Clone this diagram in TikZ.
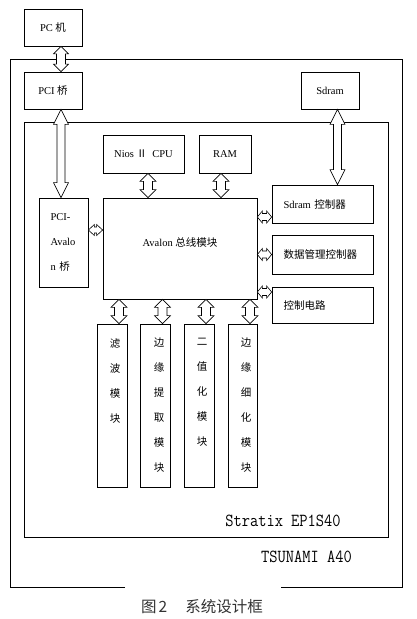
\documentclass[tikz,border=0pt]{standalone}
\usepackage{fontspec}
\setmainfont{Liberation Serif}
\newfontfamily\cjkfont{Noto Sans CJK SC}
\newcommand{\zhtxt}[1]{{\cjkfont #1}}
\usetikzlibrary{calc}
\begin{document}
\begin{tikzpicture}[x=1pt,y=-1pt,
  box/.style={draw,line width=0.7pt,inner sep=0pt,font=\fontsize{10.5pt}{12pt}\selectfont},
  lbox/.style={box,align=left,inner xsep=11.5pt,text width=#1},
  vtxt/.style={font=\fontsize{10.5pt}{25pt}\selectfont\cjkfont,align=center,anchor=north,inner sep=0pt},
  mono/.style={font=\fontsize{16pt}{18pt}\selectfont\ttfamily,inner sep=0pt},
  vdbl/.style n args={3}{draw,fill=white,line width=0.6pt,line join=miter,
    to path={let \p1=(\tikztostart),\p2=(\tikztotarget) in
      (\x1,\y1) -- (\x1+#1,\y1-#3) -- (\x1+#2,\y1-#3) -- (\x1+#2,\y2+#3) -- (\x1+#1,\y2+#3)
      -- (\x1,\y2) -- (\x1-#1,\y2+#3) -- (\x1-#2,\y2+#3) -- (\x1-#2,\y1-#3) -- (\x1-#1,\y1-#3) -- cycle}},
  hdbl/.style n args={3}{draw,fill=white,line width=0.6pt,line join=miter,
    to path={let \p1=(\tikztostart),\p2=(\tikztotarget) in
      (\x1,\y1) -- (\x1+#3,\y1+#1) -- (\x1+#3,\y1+#2) -- (\x2-#3,\y1+#2) -- (\x2-#3,\y1+#1)
      -- (\x2,\y1) -- (\x2-#3,\y1-#1) -- (\x2-#3,\y1-#2) -- (\x1+#3,\y1-#2) -- (\x1+#3,\y1-#1) -- cycle}}
]
\useasboundingbox (0,0) rectangle (416,619);
\fill[white] (0,0) rectangle (416,619);

% outer board frame (TSUNAMI A40), bottom edge broken by the caption
\draw[line width=0.7pt] (125,587) -- (10,587) -- (10,59) -- (402,59) -- (402,587) -- (281,587);
% FPGA frame (Stratix EP1S40)
\draw[line width=0.7pt] (24,122) rectangle (388,537);

% boxes
\node[box,minimum width=58pt,minimum height=37pt] (pc) at (53,27.5) {PC \zhtxt{机}};
\node[box,minimum width=58pt,minimum height=37pt] (pci) at (53,90.5) {PCI \zhtxt{桥}};
\node[box,minimum width=58pt,minimum height=37pt] (sdram) at (330,90.5) {Sdram};
\node[box,minimum width=81pt,minimum height=38pt] (nios) at (143.5,154) {Nios \zhtxt{Ⅱ}\ \ CPU};
\node[box,minimum width=52pt,minimum height=38pt] (ram) at (225,154) {RAM};
\node[lbox=26pt,font=\fontsize{10.5pt}{25pt}\selectfont,minimum width=49pt,minimum height=89pt] (pcia) at (63.5,242.5) {PCI-\\Avalo\\n \zhtxt{桥}};
\node[box,minimum width=154pt,minimum height=101pt] (avalon) at (180,248.5) {};
\node[font=\fontsize{10.5pt}{12pt}\selectfont,inner sep=0pt] (avtxt) at (180,243) {Avalon \zhtxt{总线模块}};
\node[lbox=78pt,minimum width=101pt,minimum height=38pt] (sdc) at (322.5,204) {Sdram \zhtxt{控制器}};
\node[lbox=78pt,minimum width=101pt,minimum height=39pt] (dmc) at (322.5,254.5) {\zhtxt{数据管理控制器}};
\node[lbox=78pt,minimum width=101pt,minimum height=36pt] (ctl) at (322.5,305) {\zhtxt{控制电路}};

\node[box,minimum width=30pt,minimum height=163pt] (m1) at (112,405.5) {};
\node[box,minimum width=30pt,minimum height=163pt] (m2) at (155,405.5) {};
\node[box,minimum width=30pt,minimum height=163pt] (m3) at (199,405.5) {};
\node[box,minimum width=29pt,minimum height=163pt] (m4) at (242.5,405.5) {};
\node[vtxt] (m1t) at (115,338) {滤\\波\\模\\块};
\node[vtxt] (m2t) at (159,338) {边\\缘\\提\\取\\模\\块};
\node[vtxt] (m3t) at (202,338) {二\\值\\化\\模\\块};
\node[vtxt] (m4t) at (246,338) {边\\缘\\细\\化\\模\\块};

% labels of the frames
\node[mono] (strtx) at (283,521) {\scalebox{1}[1.15]{Stratix EP1S40}};
\node[mono] (tsun) at (306.5,557) {\scalebox{1}[1.15]{TSUNAMI A40}};

% caption
\node[font=\fontsize{15.5pt}{18pt}\selectfont\cjkfont,inner sep=0pt,text=black!80] (cap) at (202,607) {图\hspace{2pt}2\hspace{18pt}系统设计框};

% block double arrows
\draw[vdbl={7.5pt}{4.5pt}{7.5pt}] (pc.south -| 61,0) to (pci.north -| 61,0);
\draw[vdbl={7.5pt}{4pt}{15pt}] (pci.south -| 61,0) to (pcia.north -| 61,0);
\draw[vdbl={7.5pt}{4pt}{15pt}] (sdram.south -| 337.5,0) to (sdc.north -| 337.5,0);
\draw[vdbl={8pt}{4.5pt}{8pt}] (nios.south -| 148,0) to (avalon.north -| 148,0);
\draw[vdbl={8pt}{4.5pt}{8pt}] (ram.south -| 221,0) to (avalon.north -| 221,0);
\draw[vdbl={8pt}{4.5pt}{8pt}] (avalon.south -| 119,0) to (m1.north -| 119,0);
\draw[vdbl={8pt}{4.5pt}{8pt}] (avalon.south -| 162.5,0) to (m2.north -| 162.5,0);
\draw[vdbl={8pt}{4.5pt}{8pt}] (avalon.south -| 206,0) to (m3.north -| 206,0);
\draw[vdbl={8pt}{4.5pt}{8pt}] (avalon.south -| 250,0) to (m4.north -| 250,0);
\draw[hdbl={5.5pt}{3pt}{6pt}] (pcia.east |- 0,230) to (avalon.west |- 0,230);
\draw[hdbl={6pt}{3.5pt}{5pt}] (avalon.east |- 0,217) to (sdc.west |- 0,217);
\draw[hdbl={6pt}{3.5pt}{5pt}] (avalon.east |- 0,254.5) to (dmc.west |- 0,254.5);
\draw[hdbl={6pt}{3.5pt}{5pt}] (avalon.east |- 0,292) to (ctl.west |- 0,292);
\end{tikzpicture}
\end{document}
